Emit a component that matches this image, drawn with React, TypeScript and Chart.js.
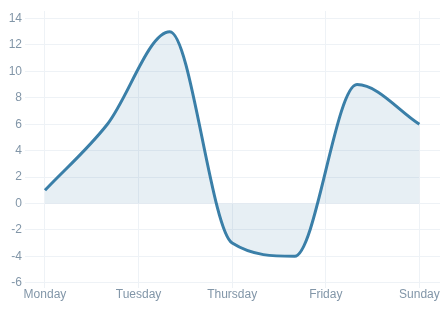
import React, { useEffect, useRef } from "react";
import { Chart, registerables } from "chart.js";

Chart.register(...registerables);

// Data
const pointPositions = [0, 1, 2, 3, 4, 5, 6];
const seriesValues = [1, 6, 13, -3, -4, 9, 6];
const xTickPositions = [0, 1.5, 3, 4.5, 6];
const xTickLabels = ["Monday", "Tuesday", "Thursday", "Friday", "Sunday"];
const yTickValues = [-6, -4, -2, 0, 2, 4, 6, 8, 10, 12, 14];

const LINE = "#3a7fa8";
const FILL = "rgba(58,127,168,0.12)";
const GRID = "#eef2f6";
const TEXT = "#8296a8";

export default function App() {
  const ref = useRef<HTMLCanvasElement | null>(null);

  useEffect(() => {
    if (!ref.current) return;
    const chart = new Chart(ref.current, {
      type: "line",
      data: {
        datasets: [
          {
            data: pointPositions.map((x, i) => ({ x, y: seriesValues[i] })),
            borderColor: LINE,
            backgroundColor: FILL,
            borderWidth: 3,
            pointRadius: 0,
            fill: "origin",
            cubicInterpolationMode: "monotone",
          },
        ],
      },
      options: {
        animation: false,
        responsive: true,
        maintainAspectRatio: false,
        layout: { padding: { top: 3, bottom: 3, left: 0, right: 0 } },
        plugins: {
          legend: { display: false },
          tooltip: { enabled: false },
        },
        scales: {
          x: {
            type: "linear",
            min: -0.32,
            max: 6.33,
            afterBuildTicks: (axis: any) => {
              axis.ticks = xTickPositions.map((v) => ({ value: v }));
            },
            afterFit: (axis: any) => {
              axis.paddingLeft = 0;
              axis.paddingRight = 0;
            },
            grid: { color: GRID, drawTicks: false, lineWidth: 1 },
            border: { display: false },
            ticks: {
              autoSkip: false,
              maxRotation: 0,
              padding: 0,
              color: TEXT,
              font: { family: "Arial, 'Liberation Sans', sans-serif", size: 12 },
              callback: (v: any) => {
                const idx = xTickPositions.indexOf(Number(v));
                return idx >= 0 ? xTickLabels[idx] : "";
              },
            },
          },
          y: {
            type: "linear",
            min: -6.37,
            max: 14.57,
            afterBuildTicks: (axis: any) => {
              axis.ticks = yTickValues.map((v) => ({ value: v }));
            },
            afterFit: (axis: any) => {
              axis.width = 17;
              axis.paddingTop = 0;
              axis.paddingBottom = 0;
            },
            grid: { color: GRID, drawTicks: false, lineWidth: 1 },
            border: { display: false },
            ticks: {
              padding: 3,
              color: TEXT,
              font: { family: "Arial, 'Liberation Sans', sans-serif", size: 12 },
              callback: (v: any) => String(v),
            },
          },
        },
      },
    });
    return () => chart.destroy();
  }, []);

  return (
    <div style={{ width: 432, height: 297, position: "relative" }}>
      <canvas ref={ref} />
    </div>
  );
}
